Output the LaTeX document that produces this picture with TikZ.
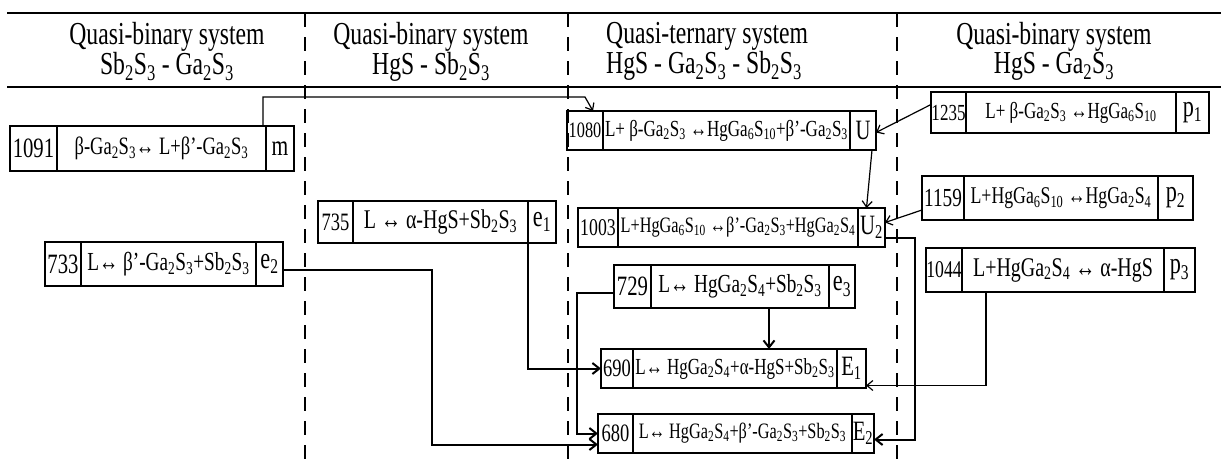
\documentclass[tikz,border=0pt]{standalone}
\usepackage{fontspec}
\setmainfont{Liberation Serif}[FakeStretch=0.74]
\usetikzlibrary{arrows.meta, positioning}
\newcommand{\ix}[1]{\textsubscript{#1}}

\begin{document}
\begin{tikzpicture}[x=1pt, y=-1pt,
    cell/.style 2 args={draw, line width=1.3pt, anchor=north west, inner sep=0pt,
                        outer sep=0pt, minimum width=#1, minimum height=#2},
    fs/.style={font=\fontsize{#1}{#1}\selectfont},
    head/.style={anchor=north, inner sep=0pt, align=center,
                 font=\fontsize{32}{28}\selectfont},
    thinarrow/.style={-{Straight Barb[length=6pt, width=10pt]}, line width=1.2pt},
    thickarrow/.style={-{Straight Barb[length=7pt, width=11pt]}, line width=2pt},
    sep/.style={dashed, dash pattern=on 14pt off 10pt, line width=1.5pt},
    rule/.style={line width=2pt}
]
    \useasboundingbox (0,0) rectangle (1221,469);

    % Table frame
    \draw[rule] (7,13) -- (1221,13);
    \draw[rule] (7,87) -- (1221,87);
    \draw[sep] (305,13) -- (305,469);
    \draw[sep] (568,13) -- (568,469);
    \draw[sep] (897,13) -- (897,469);

    % Column heads
    \node[head] (hd1) at (167,22) {Quasi-binary system\\Sb\ix2S\ix3 - Ga\ix2S\ix3};
    \node[head] (hd2) at (431,22) {Quasi-binary system\\HgS - Sb\ix2S\ix3};
    \node[head, anchor=north west, align=left] (hd3) at (606,22)
        {Quasi-ternary system\\HgS - Ga\ix2S\ix3 - Sb\ix2S\ix3};
    \node[head] (hd4) at (1054,22) {Quasi-binary system\\HgS - Ga\ix2S\ix3};

    % Sb2S3 - Ga2S3
    \node[cell={47}{45}, fs=28] (m-t) at (10,126) {1091};
    \node[cell={209}{45}, fs=25] (m-r) at (57,126) {β-Ga\ix2S\ix3↔ L+β’-Ga\ix2S\ix3};
    \node[cell={28}{45}, fs=29] (m-l) at (266,126) {m};

    \node[cell={36}{44}, fs=28] (e2-t) at (45,242) {733};
    \node[cell={175}{44}, fs=26] (e2-r) at (81,242) {L↔ β’-Ga\ix2S\ix3+Sb\ix2S\ix3};
    \node[cell={27}{44}, fs=30] (e2-l) at (256,242) {e\ix2};

    % HgS - Sb2S3
    \node[cell={35}{42}, fs=25] (e1-t) at (318,201) {735};
    \node[cell={175}{42}, fs=27] (e1-r) at (353,201) {L ↔ α-HgS+Sb\ix2S\ix3};
    \node[cell={28}{42}, fs=30] (e1-l) at (528,201) {e\ix1};

    % HgS - Ga2S3 - Sb2S3
    \node[cell={36}{39}, fs=22] (U-t) at (567,111) {1080};
    \node[cell={247}{39}, fs=23] (U-r) at (603,111)
        {L+ β-Ga\ix2S\ix3 ↔HgGa\ix6S\ix{10}+β’-Ga\ix2S\ix3};
    \node[cell={26}{39}, fs=28] (U-l) at (850,111) {U};

    \node[cell={40}{39}, fs=24] (U2-t) at (578,208) {1003};
    \node[cell={240}{39}, fs=22] (U2-r) at (618,208)
        {L+HgGa\ix6S\ix{10} ↔β’-Ga\ix2S\ix3+HgGa\ix2S\ix4};
    \node[cell={27}{39}, fs=28] (U2-l) at (858,208) {U\ix2};

    \node[cell={37}{43}, fs=28] (e3-t) at (614,265) {729};
    \node[cell={178}{43}, fs=26] (e3-r) at (651,265) {L↔ HgGa\ix2S\ix4+Sb\ix2S\ix3};
    \node[cell={26}{43}, fs=30] (e3-l) at (829,265) {e\ix3};

    \node[cell={32}{39}, fs=25] (E1-t) at (601,349) {690};
    \node[cell={204}{39}, fs=23] (E1-r) at (633,349) {L↔ HgGa\ix2S\ix4+α-HgS+Sb\ix2S\ix3};
    \node[cell={29}{39}, fs=28] (E1-l) at (837,349) {E\ix1};

    \node[cell={35}{39}, fs=25] (E2-t) at (598,414) {680};
    \node[cell={219}{39}, fs=22] (E2-r) at (633,414)
        {L↔ HgGa\ix2S\ix4+β’-Ga\ix2S\ix3+Sb\ix2S\ix3};
    \node[cell={22}{39}, fs=28] (E2-l) at (852,414) {E\ix2};

    % HgS - Ga2S3
    \node[cell={35}{41}, fs=23] (p1-t) at (931,92) {1235};
    \node[cell={210}{41}, fs=23] (p1-r) at (966,92) {L+ β-Ga\ix2S\ix3 ↔HgGa\ix6S\ix{10}};
    \node[cell={33}{41}, fs=30] (p1-l) at (1176,92) {p\ix1};

    \node[cell={42}{44}, fs=26] (p2-t) at (922,176) {1159};
    \node[cell={194}{44}, fs=24] (p2-r) at (964,176) {L+HgGa\ix6S\ix{10} ↔HgGa\ix2S\ix4};
    \node[cell={35}{44}, fs=30] (p2-l) at (1158,176) {p\ix2};

    \node[cell={36}{44}, fs=24] (p3-t) at (926,248) {1044};
    \node[cell={202}{44}, fs=27] (p3-r) at (962,248) {L+HgGa\ix2S\ix4 ↔ α-HgS};
    \node[cell={31}{44}, fs=30] (p3-l) at (1164,248) {p\ix3};

    % Bend points
    \coordinate (mtop) at (585,97);
    \coordinate (rgt) at (915,300);
    \coordinate (lft) at (432,350);
    \coordinate (lft2) at (577,350);

    % Paths
    \draw[thinarrow] ([xshift=-3pt]m-r.north east) |- (mtop) -- ([xshift=-10pt]U-t.north east);
    \draw[thinarrow] ([yshift=8pt]p1-t.west) -- ([yshift=-2pt]U-l.east);
    \draw[thinarrow] ([xshift=-4pt]U-l.south east) -- ([xshift=-5pt]U2-l.north);
    \draw[thinarrow] ([yshift=-12pt]p2-t.west) -- ([yshift=5pt]U2-l.east);
    \draw[thickarrow] ([yshift=-10pt]U2-l.east) -| (rgt) |- ([yshift=-6pt]E2-l.east);
    \draw[thickarrow] ([yshift=-6pt]e2-l.east) -| (lft) |- ([yshift=-11pt]E2-t.west);
    \draw[thickarrow] (e1-l.south west) |- (E1-t.west);
    \draw[thickarrow] ([xshift=29pt]e3-r.south) -- ([xshift=29pt]e3-r.south |- E1-r.north);
    \draw[thickarrow] ([yshift=-6pt]e3-t.west) -| (lft2) |- (E2-t.west);
    \draw[thinarrow] ([xshift=24pt]p3-r.south west) |- ([yshift=-17pt]E1-l.east);
\end{tikzpicture}
\end{document}
